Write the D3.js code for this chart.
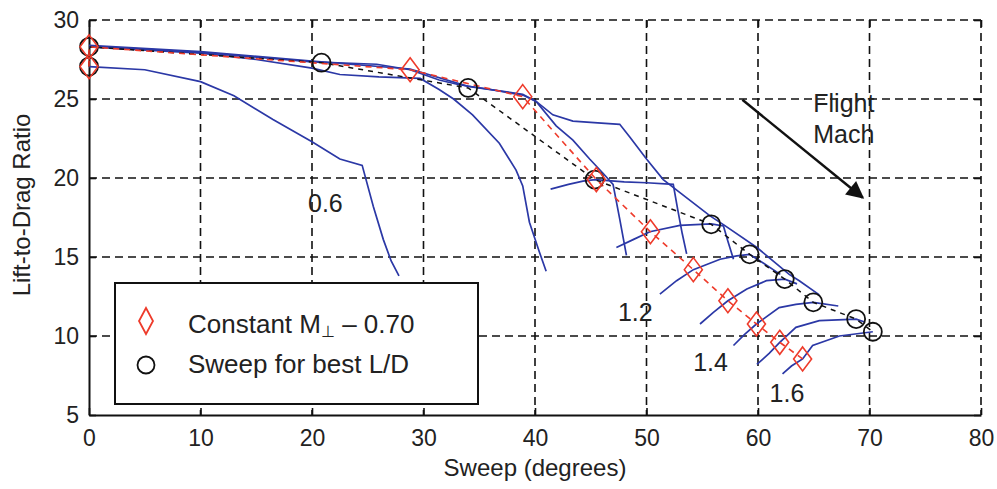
<!DOCTYPE html>
<html>
<head>
<meta charset="utf-8">
<script src="https://cdn.jsdelivr.net/npm/d3@7"></script>
<style>
  body { margin: 0; background: #fff; }
  text { font-family: "Liberation Sans", Arial, sans-serif; fill: #222; }
</style>
</head>
<body>
<div id="chart"></div>
<script>
// axis ticks
const sweepTicks = [0, 10, 20, 30, 40, 50, 60, 70, 80];
const ldTicks = [5, 10, 15, 20, 25, 30];

// L/D vs sweep curves, one per flight Mach number  [sweep, L/D]
const mach06 = [[0,27.05],[5,26.85],[10,26.1],[13,25.2],[16.5,23.7],[20,22.3],[22.5,21.2],[24.5,20.8],[25.5,18.2],[26.4,16.1],[27.1,14.75],[27.8,13.8]];
const mach07 = [[0,28.3],[10,27.9],[15,27.5],[20,26.95],[22.5,26.55],[26,26.4],[29.7,26.3],[31.4,25.6],[32.7,25.0],[34.4,24.0],[36.8,22.2],[38.3,20.5],[38.9,19.5],[39.5,17.2],[40.4,15.3],[41,14.1]];
const mach08 = [[0,28.35],[10,27.95],[20,27.35],[25.8,27.2],[28.8,26.85],[31.4,26.2],[33.2,25.9],[36,25.6],[38.9,25.25],[40.1,24.85],[41.9,23.3],[43.4,22.4],[44.9,21.2],[46.1,20.3],[47,19.6],[47.6,17.4],[48.2,15.1]];
const mach09 = [[0,28.4],[10,28.0],[20,27.4],[28.8,26.9],[34,25.8],[38.9,25.3],[40.1,24.85],[41.6,24.0],[43.4,23.6],[45.3,23.5],[47.6,23.4],[48.5,22.6],[50,21.2],[51.5,19.9],[53,19.07],[55.7,17.6],[57,17.0],[59.9,15.6],[62.8,13.9],[63.7,13.5],[65.5,12.6]];
const mach10 = [[41.4,19.3],[43,19.6],[44.3,19.8],[45.4,19.9],[48,19.75],[50,19.7],[52.4,19.6],[52.8,18.0],[53.2,16.5],[53.6,15.2]];
const mach11 = [[47.3,15.6],[48.8,16.1],[50.3,16.6],[53,17.0],[55.8,17.1],[56.9,16.96],[57.3,16.0],[57.8,14.86]];
const mach12 = [[51.2,12.65],[52.7,13.5],[54.2,14.2],[56.6,14.86],[58.1,15.07],[59.25,15.17],[60.5,14.6],[62,13.9]];
const mach13 = [[54.8,10.76],[56,11.5],[57.3,12.23],[59,12.97],[60.75,13.5],[62.4,13.6],[63.5,13.3]];
const mach14 = [[57.8,9.4],[58.8,10.1],[59.86,10.76],[61.9,11.8],[63.4,12.0],[64.96,12.13],[67.2,11.9]];
const mach15 = [[59.9,8.2],[61,8.9],[61.95,9.6],[63.4,10.55],[65.5,10.97],[68.8,11.07],[69.5,10.9]];
const mach16 = [[62.2,7.6],[63,8.1],[64,8.55],[64.9,9.4],[67.3,10.0],[70.3,10.27]];
const machCurves = [mach06, mach07, mach08, mach09, mach10, mach11, mach12, mach13, mach14, mach15, mach16];

// Constant M_perp = 0.70 points
const constMperp = [[0,27.05],[0,28.3],[28.8,26.85],[38.9,25.15],[45.5,19.9],[50.35,16.6],[54.2,14.2],[57.3,12.23],[59.86,10.76],[61.95,9.6],[64,8.55]];
// Sweep for best L/D points
const bestLD = [[0,27.05],[0,28.3],[20.85,27.3],[34,25.7],[45.35,19.9],[55.8,17.07],[59.25,15.17],[62.4,13.6],[64.96,12.13],[68.8,11.07],[70.3,10.27]];

// in-plot annotations [sweep, L/D, text]
const machLabels = [[21.2,18.4,"0.6"],[49.0,11.5,"1.2"],[55.75,8.35,"1.4"],[62.6,6.4,"1.6"],[67.7,24.76,"Flight"],[67.7,22.8,"Mach"]];
const arrowFrom = [58.6, 24.95];
const arrowTo = [69.4, 18.75];

const svgWidth = 997, svgHeight = 489;
const margin = { top: 20, right: 16, bottom: 74, left: 89 };
const width = svgWidth - margin.left - margin.right;
const height = svgHeight - margin.top - margin.bottom;

const blue = "#2b38a6";
const red = "#ee3b2b";

const svg = d3.select("#chart").append("svg")
    .attr("width", svgWidth)
    .attr("height", svgHeight)
    .append("g")
    .attr("transform", `translate(${margin.left}, ${margin.top})`);

const x = d3.scaleLinear().domain([0, 80]).range([0, width]);
const y = d3.scaleLinear().domain([5, 30]).range([height, 0]);

// dashed grid
svg.selectAll(".vgrid").data(sweepTicks.slice(1)).enter().append("line")
    .attr("x1", d => x(d)).attr("x2", d => x(d))
    .attr("y1", 0).attr("y2", height)
    .attr("stroke", "#111").attr("stroke-width", 1.6)
    .attr("stroke-dasharray", "8,5");
svg.selectAll(".hgrid").data(ldTicks.slice(1)).enter().append("line")
    .attr("x1", 0).attr("x2", width)
    .attr("y1", d => y(d)).attr("y2", d => y(d))
    .attr("stroke", "#111").attr("stroke-width", 1.6)
    .attr("stroke-dasharray", "8,5");

// axes
const xAxis = svg.append("g")
    .attr("transform", `translate(0, ${height})`)
    .call(d3.axisBottom(x).tickValues(sweepTicks).tickSizeInner(-7).tickSizeOuter(0).tickPadding(15));
const yAxis = svg.append("g")
    .call(d3.axisLeft(y).tickValues(ldTicks).tickSizeInner(-7).tickSizeOuter(0).tickPadding(10));
svg.append("g")
    .call(d3.axisTop(x).tickValues(sweepTicks).tickSizeInner(-7).tickSizeOuter(0).tickFormat(""))
    .select(".domain").remove();
svg.append("g")
    .attr("transform", `translate(${width}, 0)`)
    .call(d3.axisRight(y).tickValues(ldTicks).tickSizeInner(-7).tickSizeOuter(0).tickFormat(""))
    .select(".domain").remove();

svg.selectAll(".tick line").attr("stroke", "#111").attr("stroke-width", 1.6);
[xAxis, yAxis].forEach(function(a) {
    a.select(".domain").attr("stroke", "#111").attr("stroke-width", 2);
    a.selectAll("text")
        .style("font-family", '"Liberation Sans", Arial, sans-serif')
        .style("font-size", "23px")
        .attr("fill", "#222");
});

// axis titles
svg.append("text")
    .attr("x", width / 2)
    .attr("y", height + 61)
    .attr("text-anchor", "middle")
    .style("font-size", "24px")
    .text("Sweep (degrees)");
svg.append("text")
    .attr("transform", "rotate(-90)")
    .attr("x", -(205 - margin.top))
    .attr("y", 30 - margin.left)
    .attr("text-anchor", "middle")
    .style("font-size", "24px")
    .text("Lift-to-Drag Ratio");

// Mach curves
const line = d3.line().x(d => x(d[0])).y(d => y(d[1]));
svg.selectAll(".mach").data(machCurves).enter().append("path")
    .attr("d", line)
    .attr("fill", "none")
    .attr("stroke", blue)
    .attr("stroke-width", 1.7);

// best L/D and constant M_perp traces
svg.append("path").datum(bestLD).attr("d", line)
    .attr("fill", "none").attr("stroke", "#111").attr("stroke-width", 1.5)
    .attr("stroke-dasharray", "5,5");
svg.append("path").datum(constMperp).attr("d", line)
    .attr("fill", "none").attr("stroke", red).attr("stroke-width", 1.6)
    .attr("stroke-dasharray", "6,5");

function diamond(hw, hh) {
    return `M0,${-hh}L${hw},0L0,${hh}L${-hw},0Z`;
}

svg.selectAll(".best").data(bestLD).enter().append("circle")
    .attr("cx", d => x(d[0])).attr("cy", d => y(d[1]))
    .attr("r", 9)
    .attr("fill", "none").attr("stroke", "#111").attr("stroke-width", 1.8);
svg.selectAll(".dia").data(constMperp).enter().append("path")
    .attr("d", diamond(9, 12))
    .attr("transform", d => `translate(${x(d[0])}, ${y(d[1])})`)
    .attr("fill", "none").attr("stroke", red).attr("stroke-width", 1.6);

// labels
svg.selectAll(".mlab").data(machLabels).enter().append("text")
    .attr("x", d => x(d[0])).attr("y", d => y(d[1]))
    .attr("dy", "0.35em")
    .attr("text-anchor", "middle")
    .style("font-size", "25px")
    .text(d => d[2]);

// flight Mach arrow
svg.append("defs").append("marker")
    .attr("id", "arrowhead")
    .attr("viewBox", "0 0 10 10")
    .attr("refX", 9).attr("refY", 5)
    .attr("markerWidth", 9).attr("markerHeight", 7)
    .attr("markerUnits", "strokeWidth")
    .attr("orient", "auto")
    .append("path").attr("d", "M0,0L10,5L0,10Z").attr("fill", "#111");
svg.append("line")
    .attr("x1", x(arrowFrom[0])).attr("y1", y(arrowFrom[1]))
    .attr("x2", x(arrowTo[0])).attr("y2", y(arrowTo[1]))
    .attr("stroke", "#111").attr("stroke-width", 2.5)
    .attr("marker-end", "url(#arrowhead)");

// legend
const legend = svg.append("g").attr("transform", "translate(26, 263)");
legend.append("rect")
    .attr("width", 363).attr("height", 121)
    .attr("fill", "#fff").attr("stroke", "#111").attr("stroke-width", 2);
legend.append("path")
    .attr("d", diamond(7, 13))
    .attr("transform", "translate(31, 38)")
    .attr("fill", "none").attr("stroke", red).attr("stroke-width", 1.8);
legend.append("circle")
    .attr("cx", 31).attr("cy", 82).attr("r", 8.5)
    .attr("fill", "none").attr("stroke", "#111").attr("stroke-width", 1.8);
const t1 = legend.append("text").attr("x", 73).attr("y", 50).style("font-size", "26px");
t1.append("tspan").text("Constant M");
t1.append("tspan").attr("dy", 4).style("font-size", "16px").text("\u22a5");
t1.append("tspan").attr("dy", -4).text(" \u2013 0.70");
legend.append("text").attr("x", 73).attr("y", 90).style("font-size", "26px")
    .text("Sweep for best L/D");
</script>
</body>
</html>
